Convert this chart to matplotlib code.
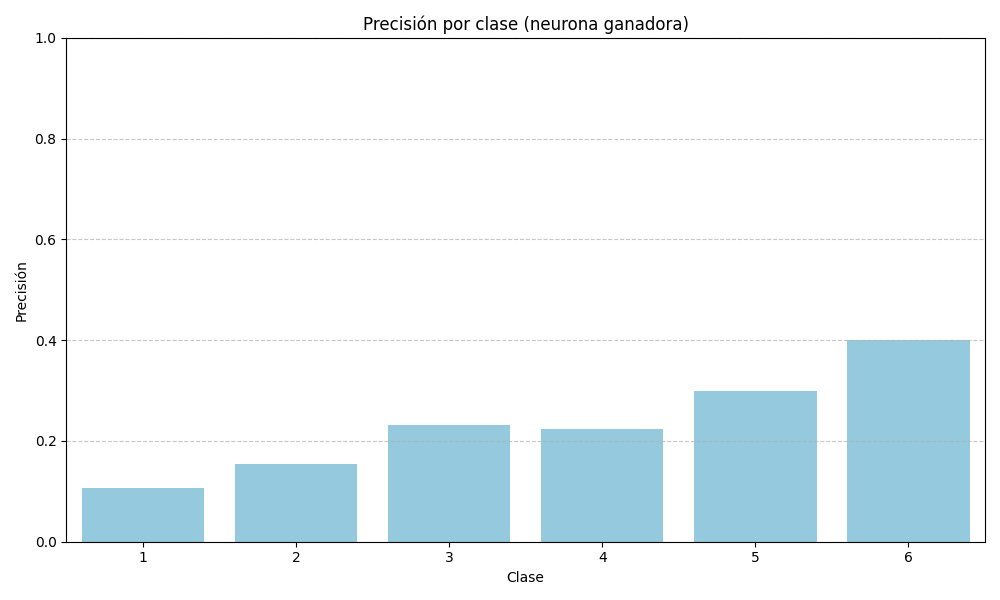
import matplotlib
matplotlib.use("Agg")
import matplotlib.pyplot as plt
import seaborn as sns

# precision per class
clases = ["1", "2", "3", "4", "5", "6"]
precision = [0.107, 0.155, 0.232, 0.224, 0.300, 0.401]

fig, ax = plt.subplots(figsize=(10, 6), dpi=100)
sns.barplot(x=clases, y=precision, color="skyblue", ax=ax)
ax.set_ylim(0, 1)
ax.set_title("Precisión por clase (neurona ganadora)")
ax.set_xlabel("Clase")
ax.set_ylabel("Precisión")
ax.grid(axis="y", linestyle="--", alpha=0.7)
plt.tight_layout()
plt.savefig("out.png")
